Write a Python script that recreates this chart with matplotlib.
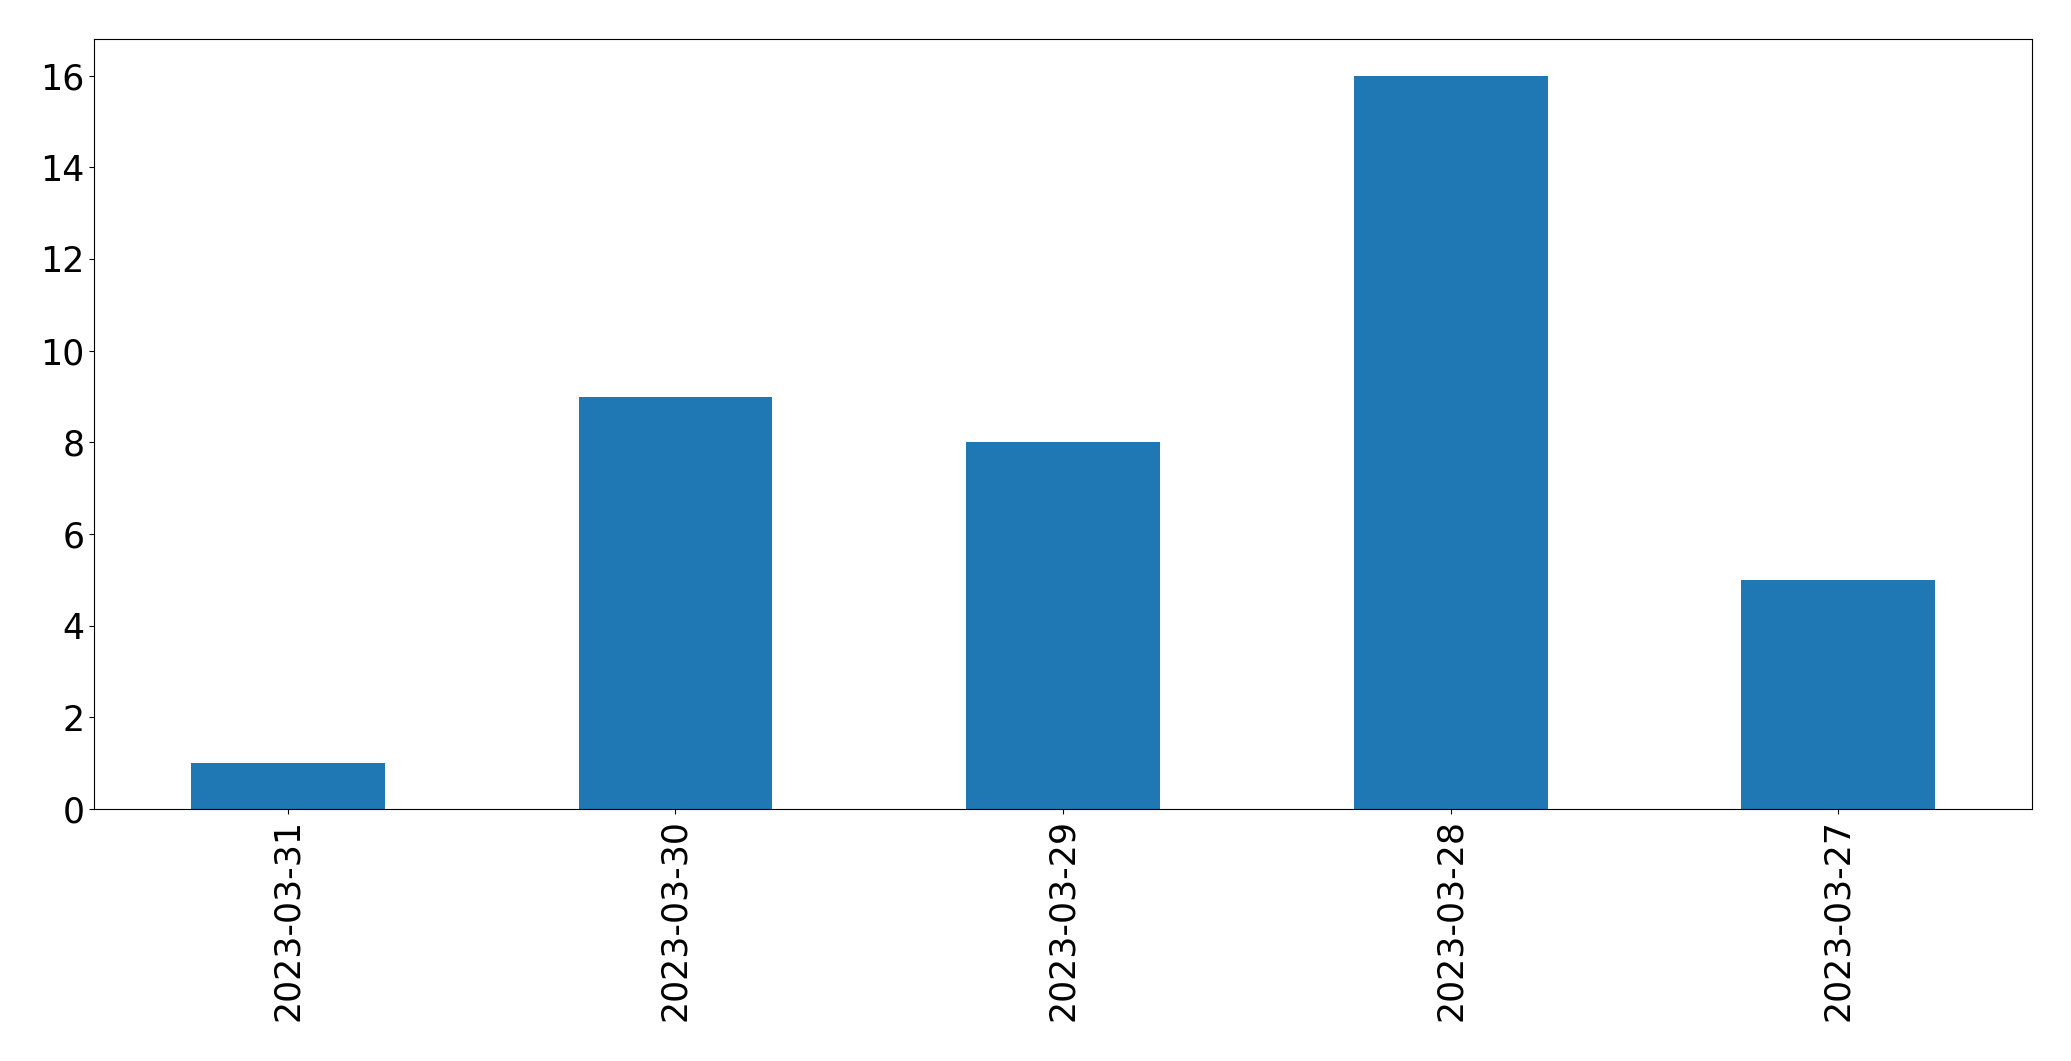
import pandas as pd
import matplotlib
matplotlib.use("Agg")
import matplotlib.pyplot as plt

dates = ["2023-03-31", "2023-03-30", "2023-03-29", "2023-03-28", "2023-03-27"]
counts = [1, 9, 8, 16, 5]


def main():
    s = pd.Series(counts, index=dates)
    fig = plt.figure(figsize=(20.71, 10.61), dpi=100)
    ax = fig.add_axes([94 / 2071, 1 - 809 / 1061, (2032 - 94) / 2071, (809 - 39) / 1061])
    s.plot(kind="bar", ax=ax, fontsize=25)
    fig.savefig("out.png", dpi=100)


if __name__ == "__main__":
    main()
